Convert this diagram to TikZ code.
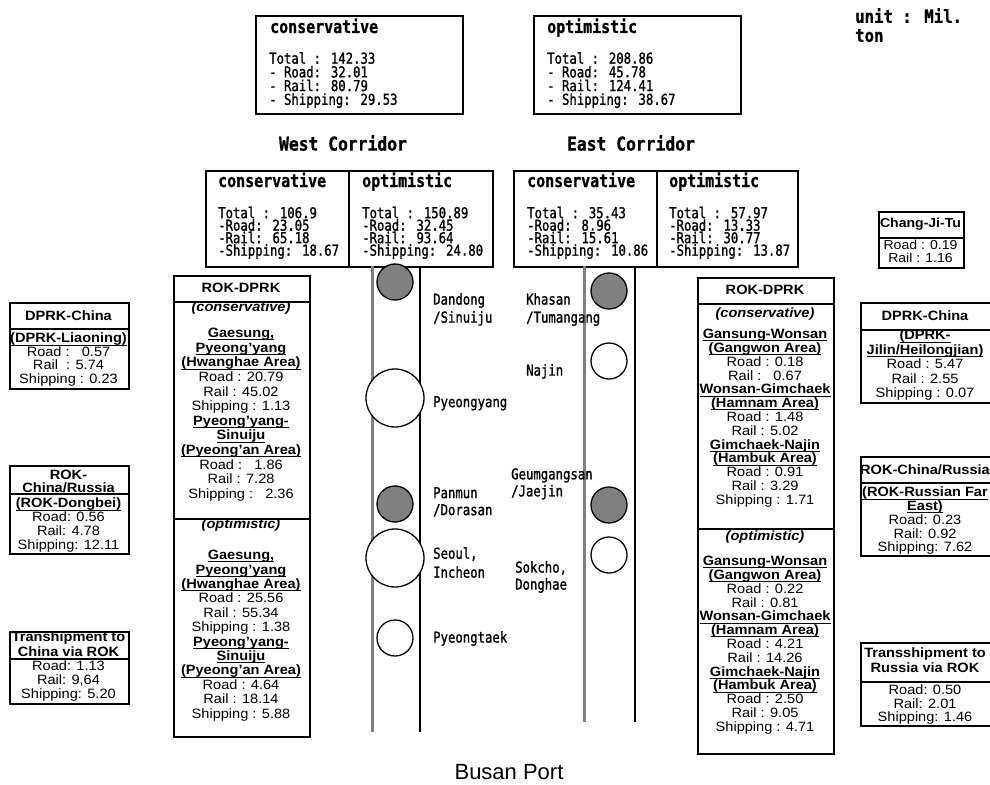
\documentclass[tikz,border=0pt]{standalone}
\usepackage{fontspec}
\setmainfont{Liberation Sans}
\newfontfamily\arx[FakeStretch=1.08]{Liberation Sans}
\newfontfamily\gth[FakeStretch=0.82, FakeBold=1.2]{DejaVu Sans Mono}
\newfontfamily\gthb[FakeStretch=0.83, FakeBold=0.8]{DejaVu Sans Mono Bold}
\newfontfamily\gthc[FakeStretch=0.86, FakeBold=0.8]{DejaVu Sans Mono Bold}
\newfontfamily\gthu[FakeStretch=0.87, FakeBold=0.8]{DejaVu Sans Mono Bold}
\definecolor{midgray}{HTML}{808080}
\newcommand{\ulb}[1]{\setbox0=\hbox{\bfseries #1}\rlap{\rule[-2.6pt]{\wd0}{0.9pt}}\box0}
\tikzset{
  bx/.style={draw, line width=1.8pt, inner sep=0pt},
  divl/.style={line width=1.8pt},
  sft/.style={font={\arx\fontsize{13.5}{#1}\selectfont\lineskiplimit-20pt}, align=center, inner sep=0pt},
  sft/.default=14.5,
  sfh/.style={font={\arx\bfseries\fontsize{13.5}{#1}\selectfont\lineskiplimit-20pt}, align=center, inner sep=0pt},
  sfh/.default=14.5,
  sfbi/.style={font={\arx\bfseries\itshape\fontsize{13.5}{14.5}\selectfont}, inner sep=0pt},
  gm/.style={font={\gth\fontsize{15}{#1}\selectfont\lineskiplimit-20pt}, align=left, inner sep=0pt},
  gm/.default=13.7,
  gh/.style={font={\gthb\fontsize{18}{20}\selectfont}, inner sep=0pt},
  gc/.style={font={\gthc\fontsize{19}{22}\selectfont}, inner sep=0pt},
  gu/.style={font={\gthu\fontsize{18}{19}\selectfont\lineskiplimit-20pt}, align=left, inner sep=0pt},
  gline/.style={draw=midgray, line width=3pt},
  kline/.style={draw=black, line width=2pt},
  stn/.style={circle, draw, line width=1.3pt, fill=white, inner sep=0pt},
  stng/.style={stn, fill=midgray}
}
\begin{document}
\begin{tikzpicture}[x=1pt,y=-1pt]
\useasboundingbox (0,0) rectangle (990,784);
\fill[white] (0,0) rectangle (990,784);

% unit
\node[gu, anchor=north west] (unit) at (855,8) {unit : Mil.\\ton};

% top summary boxes
\node[bx, minimum width=207pt, minimum height=98pt, anchor=north west] (topC) at (255,15) {};
\node[bx, minimum width=207pt, minimum height=98pt, anchor=north west] (topO) at (533,15) {};
\node[gh, anchor=base west] (topCh) at (270,33) {conservative};
\node[gm=13.7, anchor=north west] (topCt) at (269,52) {Total : 142.33\\- Road: 32.01\\- Rail: 80.79\\- Shipping: 29.53};
\node[gh, anchor=base west] (topOh) at (547,33) {optimistic};
\node[gm=13.7, anchor=north west] (topOt) at (547,52) {Total : 208.86\\- Road: 45.78\\- Rail: 124.41\\- Shipping: 38.67};

% corridor titles
\node[gc] (westT) at (343,143) {West Corridor};
\node[gc] (eastT) at (631,143) {East Corridor};

% corridor boxes
\node[bx, minimum width=143pt, minimum height=96pt, anchor=north west] (wC) at (205,170) {};
\node[bx, minimum width=144pt, minimum height=96pt, anchor=north west] (wO) at (348,170) {};
\node[bx, minimum width=143pt, minimum height=96pt, anchor=north west] (eC) at (513,170) {};
\node[bx, minimum width=141pt, minimum height=96pt, anchor=north west] (eO) at (656,170) {};
\node[gh, anchor=base west] (wCh) at (218,187) {conservative};
\node[gh, anchor=base west] (wOh) at (362,187) {optimistic};
\node[gh, anchor=base west] (eCh) at (527,187) {conservative};
\node[gh, anchor=base west] (eOh) at (669,187) {optimistic};
\node[gm=12.5, anchor=north west] (wCt) at (218,206.5) {Total : 106.9\\-Road: 23.05\\-Rail: 65.18\\-Shipping: 18.67};
\node[gm=12.5, anchor=north west] (wOt) at (362,206.5) {Total : 150.89\\-Road: 32.45\\-Rail: 93.64\\-Shipping: 24.80};
\node[gm=12.5, anchor=north west] (eCt) at (527,206.5) {Total : 35.43\\-Road: 8.96\\-Rail: 15.61\\-Shipping: 10.86};
\node[gm=12.5, anchor=north west] (eOt) at (669,206.5) {Total : 57.97\\-Road: 13.33\\-Rail: 30.77\\-Shipping: 13.87};

% corridor strips
\coordinate (wg1) at (372,266); \coordinate (wg2) at (372,732);
\coordinate (wk1) at (420,266); \coordinate (wk2) at (420,732);
\coordinate (eg1) at (584,266); \coordinate (eg2) at (584,722);
\coordinate (ek1) at (635,266); \coordinate (ek2) at (635,722);
\draw[gline] (wg1) -- (wg2);
\draw[kline] (wk1) -- (wk2);
\draw[gline] (eg1) -- (eg2);
\draw[kline] (ek1) -- (ek2);

% stations
\node[stng, minimum size=36pt] (dandong) at (395,282) {};
\node[stn, minimum size=58pt] (pyeongyang) at (395,398) {};
\node[stng, minimum size=36pt] (panmun) at (395,504) {};
\node[stn, minimum size=58pt] (seoul) at (395,558) {};
\node[stn, minimum size=36pt] (pyeongtaek) at (395,638) {};
\node[stng, minimum size=36pt] (khasan) at (609,291) {};
\node[stn, minimum size=36pt] (najin) at (609,361) {};
\node[stng, minimum size=36pt] (geumgang) at (609,505) {};
\node[stn, minimum size=36pt] (sokcho) at (609,555) {};

% station labels
\node[gm=18, anchor=north west] (lDandong) at (433,293) {Dandong\\/Sinuiju};
\node[gm=18, anchor=north west] (lKhasan) at (526,293) {Khasan\\/Tumangang};
\node[gm, anchor=north west] (lNajin) at (526,364) {Najin};
\node[gm, anchor=north west] (lPy) at (433,396) {Pyeongyang};
\node[gm=17, anchor=north west] (lGeum) at (511,468) {Geumgangsan\\/Jaejin};
\node[gm=17, anchor=north west] (lPanmun) at (433,487) {Panmun\\/Dorasan};
\node[gm=19, anchor=north west] (lSeoul) at (433,547) {Seoul,\\Incheon};
\node[gm=17, anchor=north west] (lSokcho) at (515,561) {Sokcho,\\Donghae};
\node[gm, anchor=north west] (lPt) at (433,631) {Pyeongtaek};

% left ROK-DPRK box
\node[bx, minimum width=136pt, minimum height=461pt, anchor=north west] (lRD) at (173,275) {};
\draw[divl] (173,302) -- (309,302);
\draw[divl] (173,519) -- (309,519);
\node[sfh] (lRDh) at (241,288) {ROK-DPRK};
\node[sfbi] (lRDc) at (241,308) {(conservative)};
\node[sft=14.6, anchor=north] (lRDct) at (241,328) {\ulb{Gaesung,}\\\ulb{Pyeong’yang}\\\ulb{(Hwanghae Area)}\\Road : 20.79\\Rail : 45.02\\Shipping : 1.13\\\ulb{Pyeong’yang-}\\\ulb{Sinuiju}\\\ulb{(Pyeong’an Area)}\\Road :\ \ \ 1.86\\Rail : 7.28\\Shipping :\ \ \ 2.36};
\node[sfbi] (lRDo) at (241,525) {(optimistic)};
\node[sft=14.4, anchor=north] (lRDot) at (241,550) {\ulb{Gaesung,}\\\ulb{Pyeong’yang}\\\ulb{(Hwanghae Area)}\\Road : 25.56\\Rail : 55.34\\Shipping : 1.38\\\ulb{Pyeong’yang-}\\\ulb{Sinuiju}\\\ulb{(Pyeong’an Area)}\\Road : 4.64\\Rail : 18.14\\Shipping : 5.88};

% right ROK-DPRK box
\node[bx, minimum width=136pt, minimum height=476pt, anchor=north west] (rRD) at (697,277) {};
\draw[divl] (697,304) -- (833,304);
\draw[divl] (697,529) -- (833,529);
\node[sfh] (rRDh) at (765,290) {ROK-DPRK};
\node[sfbi] (rRDc) at (765,314) {(conservative)};
\node[sft=13.8, anchor=north] (rRDct) at (765,329) {\ulb{Gansung-Wonsan}\\\ulb{(Gangwon Area)}\\Road : 0.18\\Rail :\ \ \ 0.67\\\ulb{Wonsan-Gimchaek}\\\ulb{(Hamnam Area)}\\Road : 1.48\\Rail : 5.02\\\ulb{Gimchaek-Najin}\\\ulb{(Hambuk Area)}\\Road : 0.91\\Rail : 3.29\\Shipping : 1.71};
\node[sfbi] (rRDo) at (765,537) {(optimistic)};
\node[sft=13.8, anchor=north] (rRDot) at (765,556) {\ulb{Gansung-Wonsan}\\\ulb{(Gangwon Area)}\\Road : 0.22\\Rail : 0.81\\\ulb{Wonsan-Gimchaek}\\\ulb{(Hamnam Area)}\\Road : 4.21\\Rail : 14.26\\\ulb{Gimchaek-Najin}\\\ulb{(Hambuk Area)}\\Road : 2.50\\Rail : 9.05\\Shipping : 4.71};

% left small boxes
\node[bx, minimum width=119pt, minimum height=86pt, anchor=north west] (lDC) at (9,302) {};
\draw[divl] (9,329) -- (128,329);
\node[sfh] (lDCh) at (68.5,316) {DPRK-China};
\node[sft=13.5, anchor=north] (lDCt) at (68.5,333) {\ulb{(DPRK-Liaoning)}\\Road :\ \ \ 0.57\\Rail\ \ : 5.74\\Shipping : 0.23};

\node[bx, minimum width=119pt, minimum height=88pt, anchor=north west] (lRC) at (9,465) {};
\draw[divl] (9,494) -- (128,494);
\node[sfh=13, anchor=north] (lRCh) at (68.5,470) {ROK-\\China/Russia};
\node[sft=13.7, anchor=north] (lRCt) at (68.5,498) {\ulb{(ROK-Dongbei)}\\Road: 0.56\\Rail: 4.78\\Shipping: 12.11};

\node[bx, minimum width=119pt, minimum height=72pt, anchor=north west] (lTS) at (9,631) {};
\draw[divl] (9,659) -- (128,659);
\node[sfh=15, anchor=north] (lTSh) at (68.5,632) {Transhipment to\\China via ROK};
\node[sft=14, anchor=north] (lTSt) at (68.5,661) {Road: 1.13\\Rail: 9,64\\Shipping: 5.20};

% right small boxes
\node[bx, minimum width=85pt, minimum height=56pt, anchor=north west] (rCJ) at (878,211) {};
\draw[divl] (878,238) -- (963,238);
\node[font={\arx\bfseries\fontsize{13}{14}\selectfont}, inner sep=0pt] (rCJh) at (920.5,224) {Chang-Ji-Tu};
\node[font={\arx\fontsize{13}{12.5}\selectfont\lineskiplimit-20pt}, align=center, inner sep=0pt, anchor=north] (rCJt) at (920.5,240) {Road : 0.19\\Rail : 1.16};

\node[bx, minimum width=140pt, minimum height=100pt, anchor=north west] (rDC) at (860,302) {};
\draw[divl] (860,330) -- (1000,330);
\node[sfh] (rDCh) at (925,316) {DPRK-China};
\node[sft=14.5, anchor=north] (rDCt) at (925,330) {\ulb{(DPRK-}\\\ulb{Jilin/Heilongjian)}\\Road : 5.47\\Rail : 2.55\\Shipping : 0.07};

\node[bx, minimum width=140pt, minimum height=99pt, anchor=north west] (rRC) at (860,456) {};
\draw[divl] (860,483) -- (1000,483);
\node[sfh] (rRCh) at (925,470) {ROK-China/Russia};
\node[sft=13.7, anchor=north] (rRCt) at (925,487) {\ulb{(ROK-Russian Far}\\\ulb{East)}\\Road: 0.23\\Rail: 0.92\\Shipping: 7.62};

\node[bx, minimum width=140pt, minimum height=83pt, anchor=north west] (rTS) at (860,642) {};
\draw[divl] (860,682) -- (1000,682);
\node[sfh=15, anchor=north] (rTSh) at (925,648) {Transshipment to\\Russia via ROK};
\node[sft=13.5, anchor=north] (rTSt) at (925,685) {Road: 0.50\\Rail: 2.01\\Shipping: 1.46};

% Busan
\node[font={\fontsize{22}{26}\selectfont}, inner sep=0pt] (busan) at (509,772) {Busan Port};
\end{tikzpicture}
\end{document}
